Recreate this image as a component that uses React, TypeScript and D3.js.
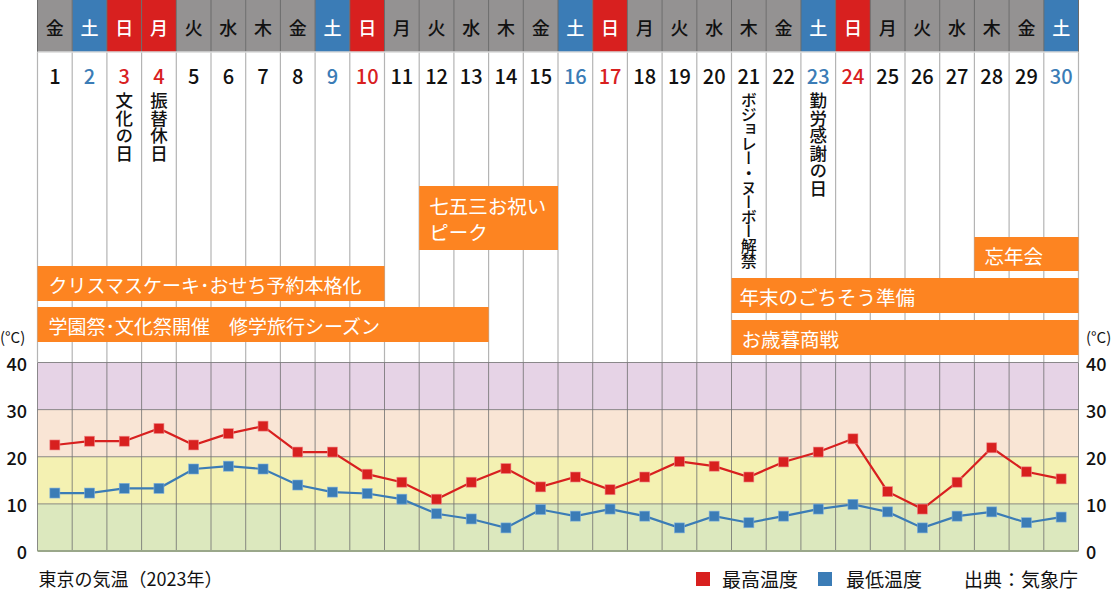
import React from "react";
import * as d3 from "d3";

const days = d3.range(1, 31);
const weekdays = ["金","土","日","月","火","水","木","金","土","日","月","火","水","木","金","土","日","月","火","水","木","金","土","日","月","火","水","木","金","土"];
// "sat" = blue, "sun" = red (Sundays and holidays)
const headerKind = ["n","sat","sun","sun","n","n","n","n","sat","sun","n","n","n","n","n","sat","sun","n","n","n","n","n","sat","sun","n","n","n","n","n","sat"];

const maxTemp = [22.5, 23.3, 23.3, 26.0, 22.5, 24.9, 26.5, 21.0, 21.0, 16.3, 14.6, 11.0, 14.6, 17.5, 13.6, 15.7, 13.0, 15.7, 19.0, 18.0, 15.7, 18.9, 21.0, 23.8, 12.6, 8.9, 14.6, 21.9, 16.8, 15.3];
const minTemp = [12.3, 12.3, 13.3, 13.3, 17.4, 18.0, 17.4, 14.0, 12.5, 12.2, 11.0, 7.9, 6.8, 4.9, 8.8, 7.4, 8.9, 7.4, 4.9, 7.4, 6.0, 7.4, 8.9, 9.9, 8.3, 4.9, 7.4, 8.3, 6.0, 7.2];
const yTicks = [0, 10, 20, 30, 40];

const holidayDays = [3, 4, 21, 23];
const holidayNotes = ["文化の日", "振替休日", "ボジョレー・ヌーボー解禁", "勤労感謝の日"];

const eventLabels = [["七五三お祝い", "ピーク"], ["クリスマスケーキ･おせち予約本格化"], ["学園祭･文化祭開催　修学旅行シーズン"], ["忘年会"], ["年末のごちそう準備"], ["お歳暮商戦"]];
const eventStart = [12, 1, 1, 28, 21, 21];
const eventEnd = [15, 10, 13, 30, 30, 30];

const W = 1114;
const H = 591;
const FONT = "'Noto Sans CJK JP', 'Noto Sans', sans-serif";
const RED = "#d8201f";
const BLUE = "#3b7cb6";
const GRAY = "#949292";

// box layout (top, height, text line centres)
const boxLayout = [
  { top: 186, h: 64, lines: [205, 231], fs: 19.5, pad: 10 },
  { top: 266, h: 35, lines: [284], fs: 19, pad: 11 },
  { top: 307, h: 35, lines: [325], fs: 19, pad: 11 },
  { top: 237, h: 34, lines: [255], fs: 19.5, pad: 10 },
  { top: 278, h: 35, lines: [296], fs: 19.5, pad: 8 },
  { top: 320, h: 35, lines: [338], fs: 19.5, pad: 10 },
];

const bands = [
  { lo: 0, hi: 10, fill: "#dce8be" },
  { lo: 10, hi: 20, fill: "#f4f1b2" },
  { lo: 20, hi: 30, fill: "#f9e5d5" },
  { lo: 30, hi: 40, fill: "#e6d3e6" },
];

export default function App() {
  const x = d3.scaleBand<number>().domain(days).range([37.5, 1078.5]).padding(0);
  const y = d3.scaleLinear().domain([0, 40]).range([551, 362.5]);
  const bw = x.bandwidth();
  const cx = (d: number) => (x(d) as number) + bw / 2;

  const line = d3
    .line<number>()
    .x((_, i) => cx(days[i]))
    .y((v) => y(v));

  const headerFill = (k: string) => (k === "sat" ? BLUE : k === "sun" ? RED : GRAY);
  const numColor = (k: string) => (k === "sat" ? BLUE : k === "sun" ? RED : "#111");

  const x0 = x(1) as number;
  const x1 = (x(30) as number) + bw;

  return (
    <svg width={W} height={H} style={{ position: "absolute", left: 0, top: 0, background: "#fff" }} fontFamily={FONT}>
      {/* upper white area grid */}
      {d3.range(0, 31).map((i) => {
        const xx = x0 + i * bw;
        return <line key={"ug" + i} x1={xx} x2={xx} y1={52} y2={362} stroke="#b4b4b4" strokeWidth={1.2} />;
      })}

      {/* header */}
      {days.map((d, i) => (
        <g key={"h" + d}>
          <rect x={x(d)} y={0} width={bw} height={52} fill={headerFill(headerKind[i])} />
          <text x={cx(d)} y={27} textAnchor="middle" dominantBaseline="central" fontSize={18} fontWeight={500} fill={headerKind[i] === "n" ? "#111" : "#fff"}>
            {weekdays[i]}
          </text>
          <text x={cx(d)} y={75} textAnchor="middle" dominantBaseline="central" fontSize={20} fontWeight={500} fill={numColor(headerKind[i])}>
            {d}
          </text>
        </g>
      ))}
      {d3.range(0, 31).map((i) => {
        const xx = x0 + i * bw;
        return <line key={"hg" + i} x1={xx} x2={xx} y1={0} y2={52} stroke="#6a6a6a" strokeWidth={1} />;
      })}
      <line x1={x0} x2={x1} y1={52} y2={52} stroke="#d8d8d8" strokeWidth={1.5} />

      {/* vertical holiday notes */}
      {holidayDays.map((d, i) => {
        const long = holidayNotes[i].length > 8;
        return (
          <text
            key={"hn" + d}
            x={cx(d)}
            y={92}
            fontSize={long ? 16 : 17.5}
            fontWeight={500}
            letterSpacing={long ? -1.4 : 0}
            fill="#111"
            style={{ writingMode: "vertical-rl" } as React.CSSProperties}
          >
            {holidayNotes[i]}
          </text>
        );
      })}

      {/* event boxes */}
      {eventLabels.map((lines, i) => {
        const L = boxLayout[i];
        const left = x(eventStart[i]) as number;
        const right = (x(eventEnd[i]) as number) + bw;
        return (
          <g key={"ev" + i}>
            <rect x={left} y={L.top} width={right - left} height={L.h} fill="#fd8421" />
            {lines.map((t, j) => (
              <text key={j} x={left + L.pad} y={L.lines[j]} dominantBaseline="central" fontSize={L.fs} fill="#fff">
                {t}
              </text>
            ))}
          </g>
        );
      })}

      {/* temperature bands */}
      {bands.map((b) => (
        <rect key={"b" + b.lo} x={x0} y={y(b.hi)} width={x1 - x0} height={y(b.lo) - y(b.hi)} fill={b.fill} />
      ))}
      {d3.range(0, 31).map((i) => {
        const xx = x0 + i * bw;
        return <line key={"pg" + i} x1={xx} x2={xx} y1={y(40)} y2={y(0)} stroke="#6e6e6e" strokeWidth={0.8} />;
      })}
      {yTicks.slice(1).map((t) => (
        <line key={"hy" + t} x1={x0} x2={x1} y1={y(t)} y2={y(t)} stroke="#6e6e6e" strokeWidth={0.8} />
      ))}
      <line x1={x0} x2={x1} y1={y(0)} y2={y(0)} stroke="#9aa78a" strokeWidth={2} />

      {/* axis labels */}
      {yTicks.map((t) => (
        <g key={"yt" + t}>
          <text x={27} y={y(t)} textAnchor="end" dominantBaseline="central" fontSize={18} fontWeight={500} fill="#111">
            {t}
          </text>
          <text x={1086} y={y(t)} textAnchor="start" dominantBaseline="central" fontSize={18} fontWeight={500} fill="#111">
            {t}
          </text>
        </g>
      ))}
      <text x={0} y={336} dominantBaseline="central" fontSize={15} fill="#111">(°C)</text>
      <text x={1086} y={336} dominantBaseline="central" fontSize={15} fill="#111">(°C)</text>

      {/* series */}
      <path d={line(minTemp) || ""} fill="none" stroke={BLUE} strokeWidth={2.2} />
      <path d={line(maxTemp) || ""} fill="none" stroke={RED} strokeWidth={2.2} />
      {minTemp.map((v, i) => (
        <rect key={"mn" + i} x={cx(days[i]) - 5} y={y(v) - 5} width={10} height={10} fill={BLUE} stroke="#7fb0dc" strokeWidth={0.6} />
      ))}
      {maxTemp.map((v, i) => (
        <rect key={"mx" + i} x={cx(days[i]) - 5} y={y(v) - 5} width={10} height={10} fill={RED} stroke="#f08a8a" strokeWidth={0.6} />
      ))}

      {/* footer */}
      <text x={38.5} y={578} dominantBaseline="central" fontSize={18} fill="#111">東京の気温（2023年）</text>
      <rect x={696} y={572} width={14} height={14} fill={RED} />
      <text x={722} y={578} dominantBaseline="central" fontSize={19} fill="#111">最高温度</text>
      <rect x={818} y={572} width={14} height={14} fill={BLUE} />
      <text x={846} y={578} dominantBaseline="central" fontSize={19} fill="#111">最低温度</text>
      <text x={1078} y={578} textAnchor="end" dominantBaseline="central" fontSize={19} fill="#111">出典：気象庁</text>
    </svg>
  );
}
